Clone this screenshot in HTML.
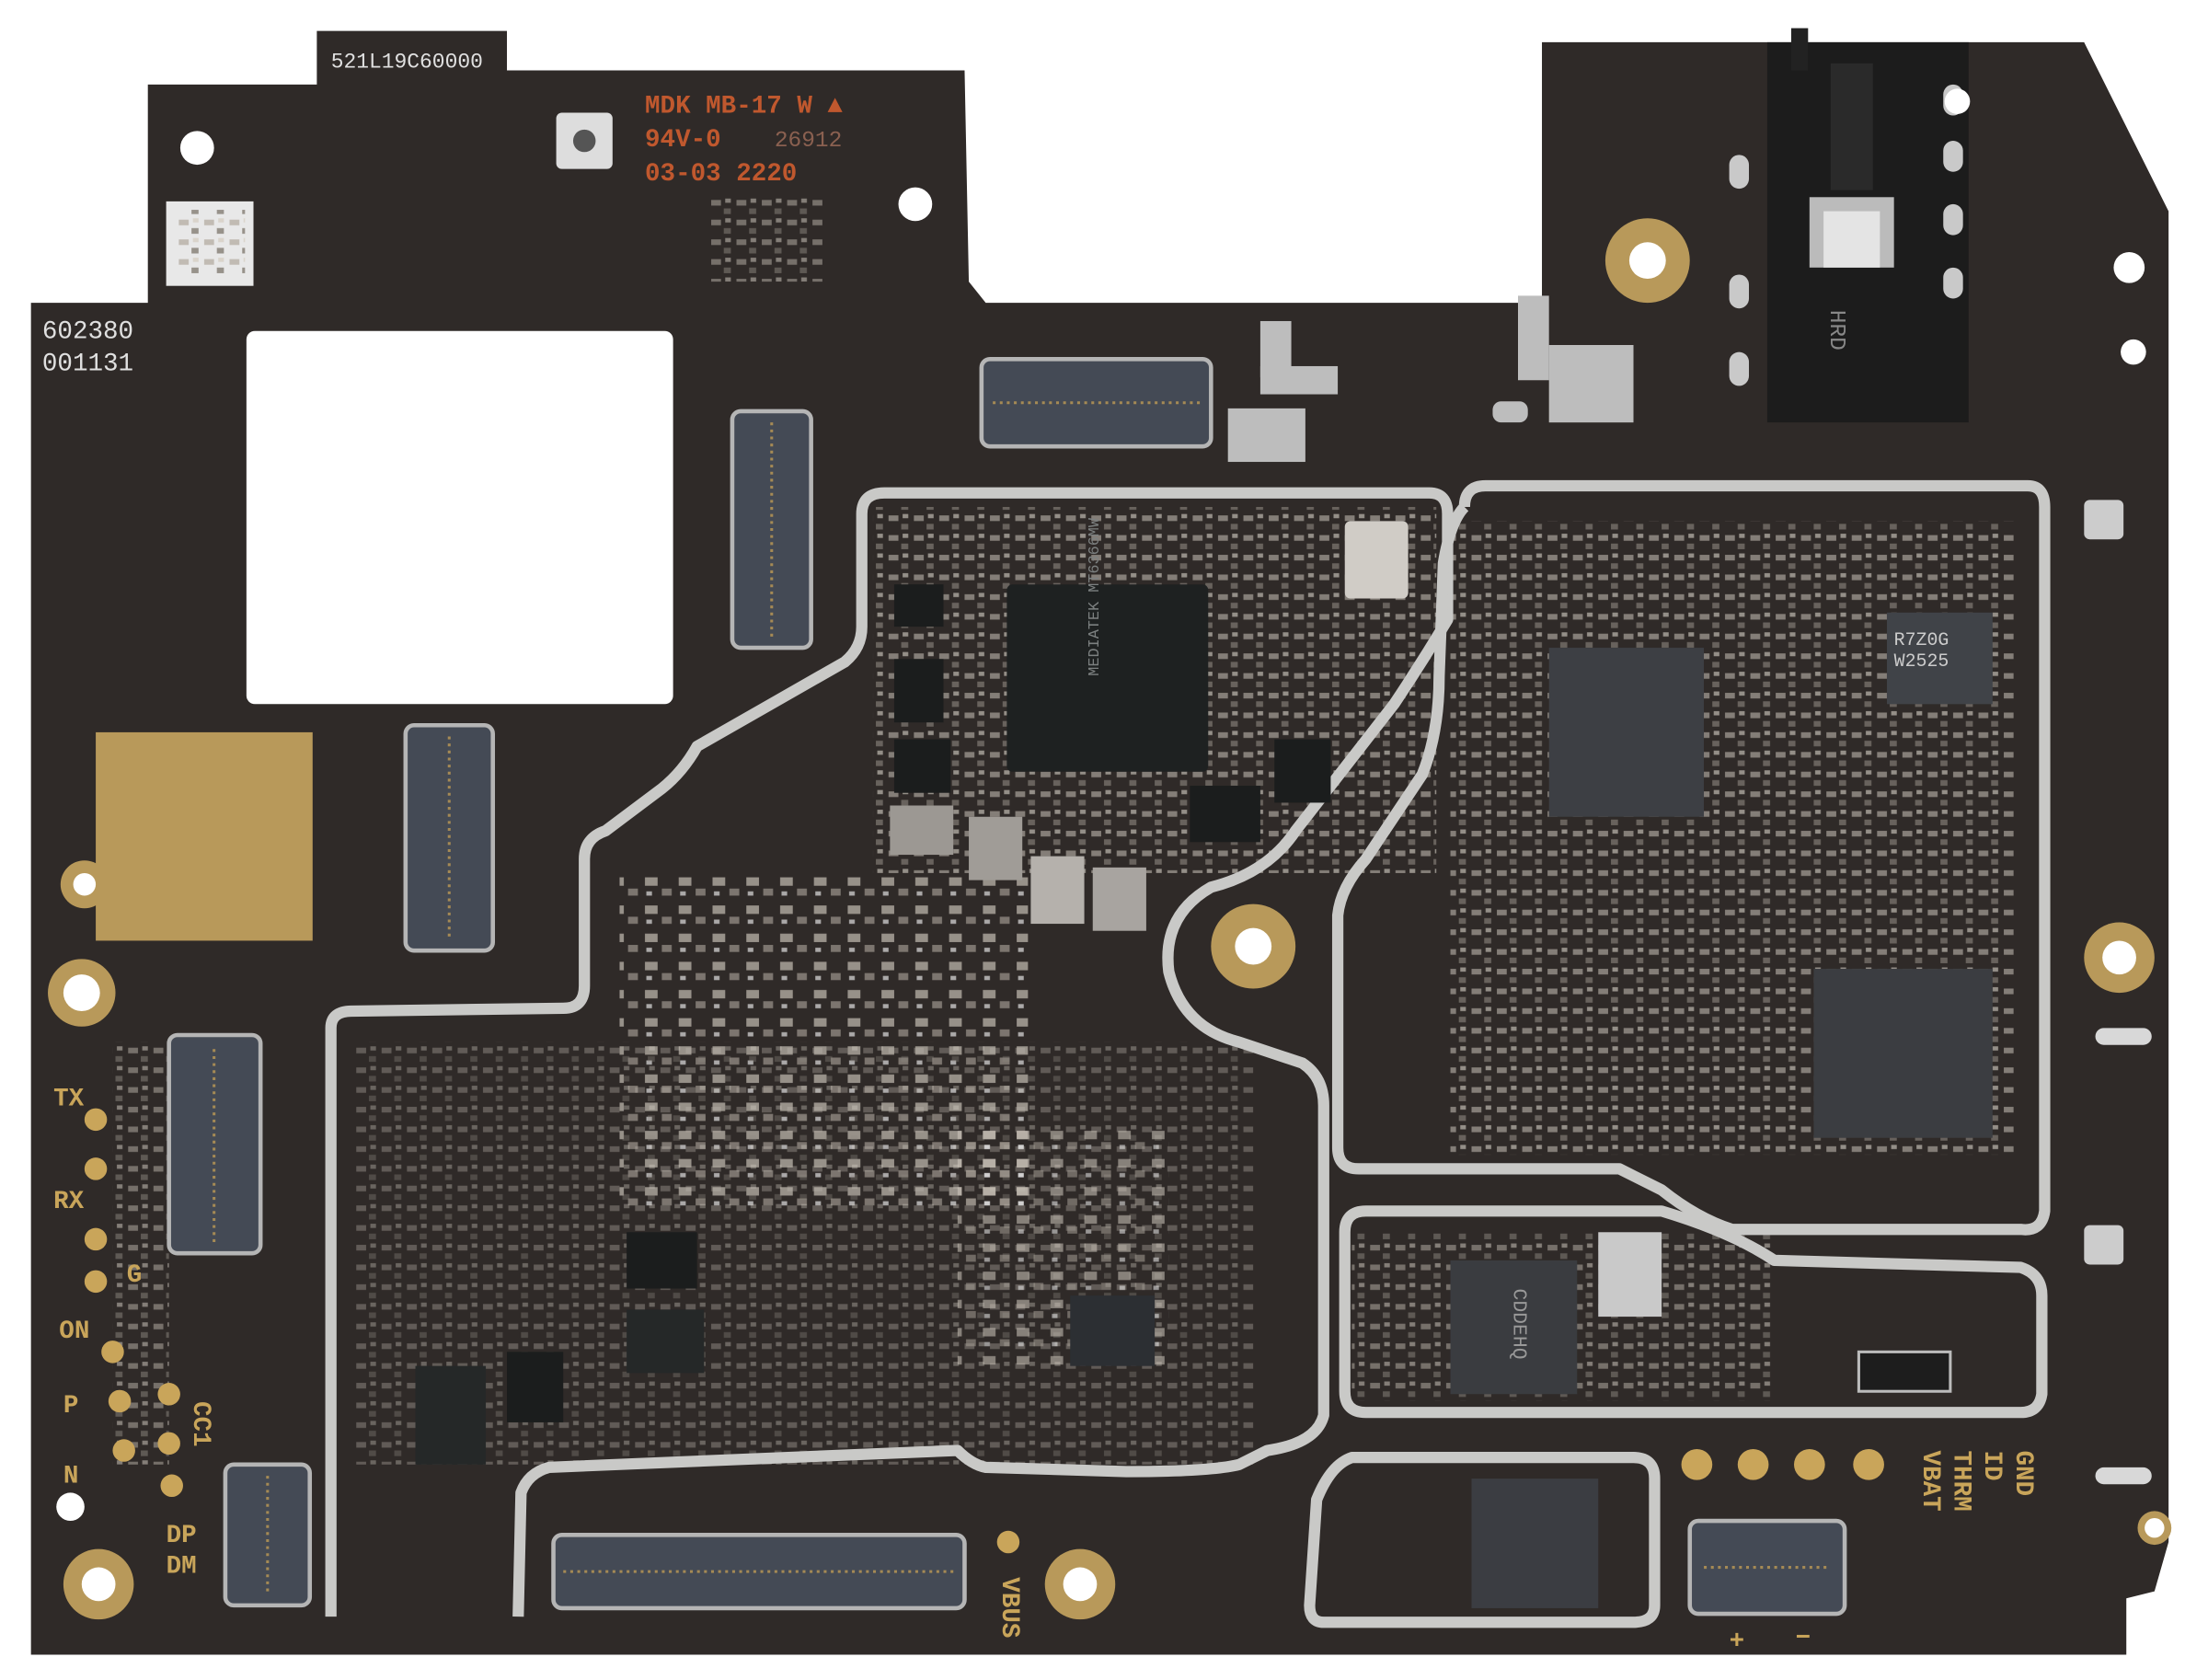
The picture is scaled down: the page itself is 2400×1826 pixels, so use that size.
<!DOCTYPE html>
<html><head><meta charset="utf-8"><style>
html,body{margin:0;padding:0;background:#fff;}
svg{display:block;}
text{font-family:"Liberation Mono","DejaVu Sans Mono",monospace;}
</style></head><body>
<svg width="2400" height="1826" viewBox="0 0 1568 1193" preserveAspectRatio="none" xmlns="http://www.w3.org/2000/svg">
<defs>
<pattern id="comp" width="18" height="14" patternUnits="userSpaceOnUse">
<rect x="1" y="2" width="7" height="4" fill="#bdb6ad"/>
<rect x="10" y="8" width="5" height="4" fill="#8e8880"/>
<rect x="11" y="1" width="4" height="3" fill="#d8d2c8"/>
</pattern>
<pattern id="comp2" width="24" height="20" patternUnits="userSpaceOnUse">
<rect x="2" y="3" width="9" height="6" fill="#cfc8bd"/>
<rect x="14" y="11" width="7" height="5" fill="#a59e95"/>
<rect x="3" y="13" width="4" height="3" fill="#eee"/>
</pattern>
</defs>
<rect width="1568" height="1193" fill="#fff"/>
<path d="M22,215 L105,215 L105,60 L225,60 L225,22 L360,22 L360,50 L685,50 L688,200 L700,215 L1095,215 L1095,30 L1480,30 L1540,150 L1540,1095 L1530,1130 L1510,1135 L1510,1175 L22,1175 Z" fill="#2f2a28"/>
<rect x="620" y="360" width="400" height="260" fill="url(#comp)" opacity="0.6"/>
<rect x="440" y="620" width="290" height="240" fill="url(#comp2)" opacity="0.65"/>
<rect x="1030" y="370" width="400" height="450" fill="url(#comp)" opacity="0.6"/>
<rect x="250" y="740" width="640" height="300" fill="url(#comp)" opacity="0.35"/>
<rect x="680" y="800" width="150" height="170" fill="url(#comp2)" opacity="0.55"/>
<rect x="960" y="875" width="300" height="120" fill="url(#comp)" opacity="0.5"/>
<rect x="80" y="740" width="40" height="300" fill="url(#comp)" opacity="0.5"/>
<rect x="505" y="140" width="80" height="60" fill="url(#comp)" opacity="0.5"/>
<rect x="175" y="235" width="303" height="265" rx="6" fill="#fff"/>
<rect x="68" y="520" width="154" height="148" fill="#b8995a"/>
<g fill="none" stroke="#c9c9c7" stroke-width="8" stroke-linejoin="round">
<path d="M235,1148 L235,730 Q235,718 250,718 L400,716 Q415,716 415,700 L415,610 Q415,595 430,590 L470,560 Q485,548 495,530 L600,470 Q612,460 612,445 L612,365 Q612,350 628,350 L1015,350 Q1028,350 1028,365 L1028,440 Q1010,470 990,500 L920,590 Q900,620 860,630 Q825,650 830,690 Q840,730 880,740 L925,755 Q940,765 940,785 L940,1005 Q935,1025 900,1030 L880,1040 Q860,1045 800,1045 L700,1042 Q690,1040 680,1030 L390,1042 Q375,1046 370,1060 L368,1148"/>
<path d="M1040,360 Q1040,345 1055,345 L1440,345 Q1452,345 1452,360 L1452,860 Q1450,875 1435,873 L1230,873 Q1205,865 1180,845 L1150,830 L965,830 Q950,830 950,815 L950,650 Q952,630 970,610 L1010,550 Q1022,520 1022,480 L1025,400 Q1030,370 1040,360"/>
<path d="M955,875 Q955,860 970,860 L1180,860 Q1230,875 1260,895 L1435,900 Q1450,905 1450,920 L1450,990 Q1448,1003 1435,1003 L970,1003 Q955,1003 955,988 Z"/>
<path d="M935,1065 Q945,1040 960,1035 L1160,1035 Q1175,1035 1175,1050 L1175,1140 Q1175,1152 1160,1152 L940,1152 Q930,1152 930,1140 Z"/>
</g>
<rect x="715" y="415" width="143" height="133" rx="4" fill="#1e2121"/>
<text x="790" y="470" font-size="11" fill="#7c8080" transform="rotate(-90 790 480)">MEDIATEK MT6366MW</text>
<rect x="1100" y="460" width="110" height="120" fill="#3d3f44"/>
<rect x="1288" y="688" width="127" height="120" fill="#3b3d41"/>
<rect x="1030" y="895" width="90" height="95" fill="#3a3c40"/>
<text x="1075" y="915" font-size="14" fill="#999" transform="rotate(90 1075 915)">CDDEHQ</text>
<rect x="1045" y="1050" width="90" height="92" fill="#3b3d42"/>
<rect x="1340" y="435" width="75" height="65" fill="#404348"/>
<text x="1345" y="458" font-size="13" fill="#ccc">R7Z0G</text>
<text x="1345" y="473" font-size="13" fill="#ccc">W2525</text>
<rect x="635" y="415" width="35" height="30" fill="#1b1d1d"/>
<rect x="635" y="468" width="35" height="45" fill="#1b1d1d"/>
<rect x="635" y="525" width="40" height="38" fill="#1b1d1d"/>
<rect x="845" y="558" width="50" height="40" fill="#1b1d1d"/>
<rect x="905" y="525" width="40" height="45" fill="#1b1d1d"/>
<rect x="445" y="875" width="50" height="40" fill="#1b1d1d"/>
<rect x="445" y="930" width="55" height="45" fill="#252828"/>
<rect x="295" y="970" width="50" height="70" fill="#252828"/>
<rect x="360" y="960" width="40" height="50" fill="#1b1d1d"/>
<rect x="760" y="920" width="60" height="50" fill="#2c2f33"/>
<rect x="1320" y="960" width="65" height="28" fill="#1d1d1d" stroke="#bbb" stroke-width="2"/>
<rect x="632" y="572" width="45" height="35" fill="#9c9893"/>
<rect x="688" y="580" width="38" height="45" fill="#a09c97"/>
<rect x="732" y="608" width="38" height="48" fill="#b5b1ac"/>
<rect x="776" y="616" width="38" height="45" fill="#a8a4a0"/>
<rect x="955" y="370" width="45" height="55" rx="4" fill="#d0ccc6"/>
<rect x="1135" y="875" width="45" height="60" fill="#c9c9c9"/>
<g fill="#444a55" stroke="#b5b5b5" stroke-width="3">
<rect x="520" y="292" width="56" height="168" rx="6"/>
<rect x="288" y="515" width="62" height="160" rx="6"/>
<rect x="120" y="735" width="65" height="155" rx="6"/>
<rect x="697" y="255" width="163" height="62" rx="6"/>
<rect x="393" y="1090" width="292" height="52" rx="6"/>
<rect x="160" y="1040" width="60" height="100" rx="6"/>
<rect x="1200" y="1080" width="110" height="66" rx="6"/>
</g>
<g stroke="#a58a55" stroke-width="2" stroke-dasharray="2 3">
<line x1="548" y1="300" x2="548" y2="452"/>
<line x1="319" y1="523" x2="319" y2="668"/>
<line x1="152" y1="745" x2="152" y2="882"/>
<line x1="705" y1="286" x2="852" y2="286"/>
<line x1="400" y1="1116" x2="678" y2="1116"/>
<line x1="190" y1="1048" x2="190" y2="1132"/>
<line x1="1210" y1="1113" x2="1300" y2="1113"/>
</g>
<rect x="1255" y="30" width="143" height="270" fill="#1c1c1c"/>
<rect x="1272" y="20" width="12" height="30" fill="#222"/>
<rect x="1300" y="45" width="30" height="90" fill="#2a2a2a"/>
<rect x="1285" y="140" width="60" height="50" fill="#bbb"/>
<rect x="1295" y="150" width="40" height="40" fill="#e4e4e4"/>
<text x="1300" y="220" font-size="16" fill="#888" transform="rotate(90 1300 220)">HRD</text>
<g fill="#c9c9c9"><rect x="1380" y="60" width="14" height="22" rx="7"/><rect x="1380" y="100" width="14" height="22" rx="7"/><rect x="1380" y="145" width="14" height="22" rx="7"/><rect x="1380" y="190" width="14" height="22" rx="7"/><rect x="1228" y="110" width="14" height="24" rx="7"/><rect x="1228" y="195" width="14" height="24" rx="7"/><rect x="1228" y="250" width="14" height="24" rx="7"/></g>
<g fill="#bdbdbd"><rect x="895" y="228" width="22" height="40"/><rect x="895" y="260" width="55" height="20"/><rect x="872" y="290" width="55" height="38"/><rect x="1078" y="210" width="22" height="60"/><rect x="1100" y="245" width="60" height="55"/><rect x="1060" y="285" width="25" height="15" rx="6"/></g>
<g fill="#fff"><circle cx="140" cy="105" r="12"/><circle cx="650" cy="145" r="12"/><circle cx="1390" cy="72" r="9"/><circle cx="1512" cy="190" r="11"/><circle cx="1515" cy="250" r="9"/><circle cx="50" cy="1070" r="10"/></g>
<g fill="#b8995a"><circle cx="60" cy="628" r="17"/><circle cx="58" cy="705" r="24"/><circle cx="1170" cy="185" r="30"/><circle cx="890" cy="672" r="30"/><circle cx="1505" cy="680" r="25"/><circle cx="70" cy="1125" r="25"/><circle cx="767" cy="1125" r="25"/><circle cx="1530" cy="1085" r="12"/></g>
<g fill="#fff"><circle cx="60" cy="628" r="8"/><circle cx="58" cy="705" r="13"/><circle cx="1170" cy="185" r="13"/><circle cx="890" cy="672" r="13"/><circle cx="1505" cy="680" r="12"/><circle cx="70" cy="1125" r="12"/><circle cx="767" cy="1125" r="12"/><circle cx="1530" cy="1085" r="7"/></g>
<g fill="#d8d8d8"><rect x="1488" y="730" width="40" height="12" rx="6"/><rect x="1488" y="1042" width="40" height="12" rx="6"/></g>
<g fill="#c9a55a"><circle cx="68" cy="795" r="8"/><circle cx="68" cy="830" r="8"/><circle cx="68" cy="880" r="8"/><circle cx="68" cy="910" r="8"/><circle cx="80" cy="960" r="8"/><circle cx="85" cy="995" r="8"/><circle cx="88" cy="1030" r="8"/><circle cx="120" cy="990" r="8"/><circle cx="120" cy="1025" r="8"/><circle cx="122" cy="1055" r="8"/><circle cx="1205" cy="1040" r="11"/><circle cx="1245" cy="1040" r="11"/><circle cx="1285" cy="1040" r="11"/><circle cx="1327" cy="1040" r="11"/><circle cx="716" cy="1095" r="8"/></g>
<rect x="118" y="143" width="62" height="60" fill="#e8e8e8"/>
<rect x="124" y="149" width="50" height="48" fill="url(#comp)" opacity="0.9"/>
<rect x="395" y="80" width="40" height="40" rx="4" fill="#ddd"/><circle cx="415" cy="100" r="8" fill="#555"/>
<rect x="1480" y="355" width="28" height="28" rx="4" fill="#ccc"/>
<rect x="1480" y="870" width="28" height="28" rx="4" fill="#ccc"/>
<g font-size="16" fill="#e0e0e0">
<text x="235" y="48" font-size="15">521L19C60000</text>
<text x="30" y="240" font-size="18">602380</text>
<text x="30" y="263" font-size="18">001131</text>
</g>
<g font-size="18" fill="#c0582e" font-weight="bold">
<text x="458" y="80">MDK MB-17 W ▲</text>
<text x="458" y="104">94V-0</text>
<text x="458" y="128">03-03 2220</text>
</g>
<text x="550" y="104" font-size="16" fill="#8a6050">26912</text>
<g font-size="18" fill="#c9a55a" font-weight="bold">
<text x="38" y="785" font-family="Liberation Sans, sans-serif">TX</text>
<text x="38" y="858" font-family="Liberation Sans, sans-serif">RX</text>
<text x="90" y="910" font-family="Liberation Sans, sans-serif">G</text>
<text x="42" y="950" font-family="Liberation Sans, sans-serif">ON</text>
<text x="45" y="1003" font-family="Liberation Sans, sans-serif">P</text>
<text x="45" y="1053" font-family="Liberation Sans, sans-serif">N</text>
<text x="118" y="1095" font-family="Liberation Sans, sans-serif">DP</text>
<text x="118" y="1117" font-family="Liberation Sans, sans-serif">DM</text>
<text x="138" y="995" font-family="Liberation Sans, sans-serif" transform="rotate(90 138 995)">CC1</text>
<text x="712" y="1120" font-family="Liberation Sans, sans-serif" transform="rotate(90 712 1120)">VBUS</text>
<text x="1432" y="1030" font-family="Liberation Sans, sans-serif" transform="rotate(90 1432 1030)">GND</text>
<text x="1410" y="1030" font-family="Liberation Sans, sans-serif" transform="rotate(90 1410 1030)">ID</text>
<text x="1388" y="1030" font-family="Liberation Sans, sans-serif" transform="rotate(90 1388 1030)">THRM</text>
<text x="1366" y="1030" font-family="Liberation Sans, sans-serif" transform="rotate(90 1366 1030)">VBAT</text>
<text x="1228" y="1170" font-family="Liberation Sans, sans-serif">+</text>
<text x="1275" y="1168" font-family="Liberation Sans, sans-serif">−</text>
</g>
</svg>
</body></html>
